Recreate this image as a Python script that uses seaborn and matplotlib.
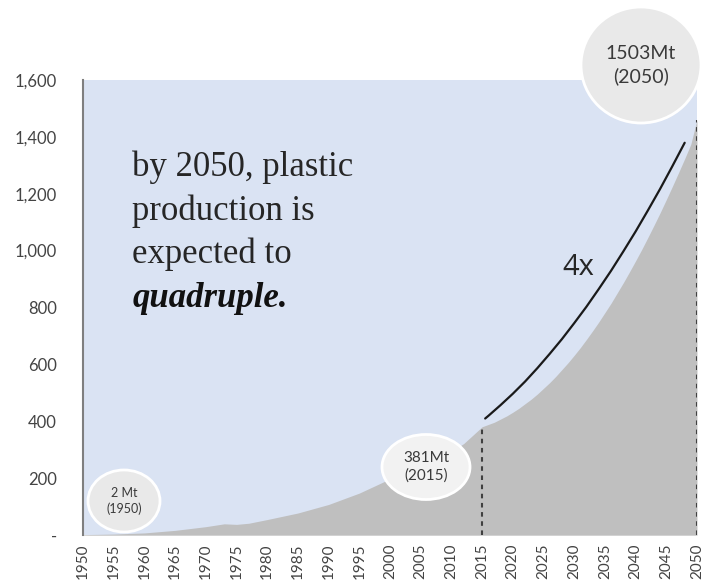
import numpy as np
import pandas as pd
import seaborn as sns
import matplotlib.pyplot as plt
from matplotlib.patches import Ellipse
from matplotlib.ticker import FuncFormatter, MultipleLocator

# Historical plastic production (Mt)
hist_years = [1950, 1955, 1960, 1965, 1970, 1973, 1975, 1977, 1980, 1985, 1990, 1995, 2000, 2005, 2010, 2012]
hist_values = [2, 4, 8, 17, 30, 40, 38, 42, 55, 78, 108, 148, 198, 245, 295, 322]

# Projection 2015-2050 (Mt)
proj_years = list(range(2015, 2051))
proj_values = [381, 389, 397, 408, 419, 432, 446, 462, 478, 496,
               516, 536, 558, 582, 606, 632, 659, 688, 718, 749,
               782, 815, 851, 887, 925, 964, 1004, 1046, 1089, 1133,
               1179, 1226, 1274, 1323, 1374, 1460]

# the "4x" arc drawn above the projection
arc_years = [2015.5, 2016, 2018, 2020, 2022, 2024, 2026, 2028, 2030, 2032,
             2034, 2036, 2038, 2040, 2042, 2044, 2046, 2048]
arc_values = [410, 419, 457, 497, 540, 587, 637, 689, 745, 803,
              865, 929, 997, 1067, 1141, 1217, 1297, 1379]

callouts = ["2 Mt\n(1950)", "381Mt\n(2015)", "1503Mt\n(2050)"]

df = pd.DataFrame({"year": hist_years + proj_years,
                   "Mt": hist_values + proj_values})
arc = pd.DataFrame({"year": arc_years, "Mt": arc_values})

sns.set_style("white")
plt.rcParams["font.family"] = ["Lato", "DejaVu Sans"]

fig = plt.figure(figsize=(7.04, 5.83), dpi=100)
ax = fig.add_axes([0.118, 0.082, 0.872, 0.781])
ax.set_facecolor("#dae3f3")

ax.fill_between(df["year"], 0, df["Mt"], color="#bfbfbf", lw=0, zorder=1)
sns.lineplot(data=arc, x="year", y="Mt", color="#1a1a1a", lw=1.6, ax=ax, zorder=3)

# dashed guides at 2015 and 2050
ax.vlines([2015, 2050], 0, [proj_values[0], proj_values[-1]], colors="#404040",
          linestyles=(0, (2.2, 2.2)), lw=1.5, zorder=2)

ax.set_xlim(1950, 2050)
ax.set_ylim(0, 1600)
ax.xaxis.set_major_locator(MultipleLocator(5))
ax.xaxis.set_minor_locator(MultipleLocator(1))
ax.yaxis.set_major_locator(MultipleLocator(200))
ax.yaxis.set_major_formatter(FuncFormatter(lambda v, p: "-" if v == 0 else f"{v:,.0f}"))
ax.tick_params(axis="x", which="both", direction="out", length=3, color="#c8c8c8",
               labelrotation=90, labelsize=11, labelcolor="#444444", pad=3)
ax.tick_params(axis="y", length=0, labelsize=12, labelcolor="#444444", pad=19)
ax.set_xlabel("")
ax.set_ylabel("")

for s in ["top", "right", "bottom"]:
    ax.spines[s].set_visible(False)
ax.spines["left"].set_color("#7f7f7f")
ax.spines["left"].set_linewidth(1.5)

# callout bubbles (positions in pixels so they stay round)
bubble_specs = [((124, 82), 72, 62, "#e9e9e9", 9),
                ((426, 116), 88, 65, "#f2f2f2", 11),
                ((641, 518), 120, 116, "#e9e9e9", 14)]
for label, ((cx, cy), w, h, fc, fs) in zip(callouts, bubble_specs):
    e = Ellipse((cx / 704, cy / 583), w / 704, h / 583, transform=fig.transFigure,
                facecolor=fc, edgecolor="white", lw=2, zorder=5)
    fig.patches.append(e)
    fig.text(cx / 704, cy / 583, label, ha="center", va="center", fontsize=fs,
             color="#3a3a3a", linespacing=1.3, zorder=6)

ax.text(2030.6, 942, "4x", fontsize=21, color="#262626", ha="center", va="center",
        family=["Open Sans", "DejaVu Sans"])

serif = ["Liberation Serif", "DejaVu Serif"]
lines = ["by 2050, plastic", "production is", "expected to"]
for i, t in enumerate(lines):
    ax.text(1958, 1292 - i * 153, t, fontsize=25, color="#262626", va="center", family=serif)
ax.text(1958, 1292 - 3 * 153, "quadruple.", fontsize=25, color="#111111", va="center",
        family=serif, style="italic", weight="bold")

fig.savefig("out.png", dpi=100)
